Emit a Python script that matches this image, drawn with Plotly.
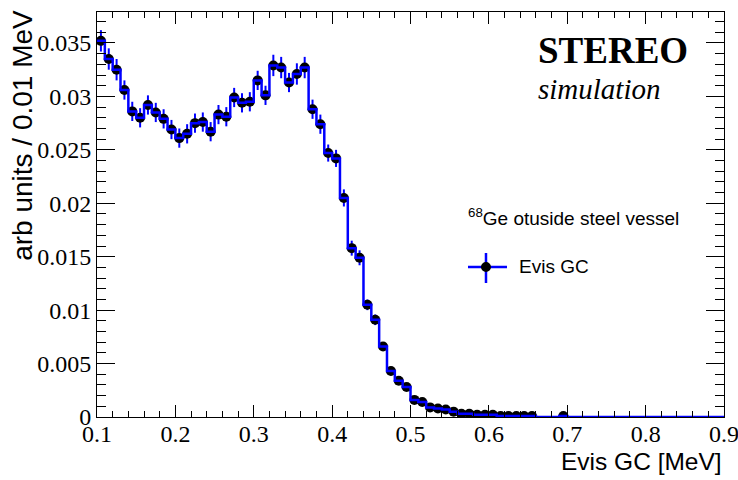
import numpy as np
import plotly.graph_objects as go

# Evis GC spectrum, 0.01 MeV bins from 0.1 to 0.9 MeV
bin_lo = 0.1
bin_hi = 0.9
bin_width = 0.01

counts = [
    0.0352, 0.0335, 0.0325, 0.0306, 0.0286, 0.0280, 0.0292, 0.0285, 0.0279, 0.0269,
    0.0261, 0.0265, 0.0275, 0.0276, 0.0267, 0.0283, 0.0281, 0.0299, 0.0294, 0.0295,
    0.0315, 0.0301, 0.0329, 0.0327, 0.0313, 0.0321, 0.0327, 0.0288, 0.0274, 0.0247,
    0.0242, 0.0205, 0.0158, 0.0149, 0.0105, 0.0091, 0.0066, 0.0043, 0.0034, 0.0028,
    0.0016, 0.0014, 0.0009, 0.0008, 0.0007, 0.0005, 0.0003, 0.0003, 0.0002, 0.0002,
    0.0002, 0.0001, 0.0001, 0.0001, 0.0001, 0.0001, 0.0, 0.0, 0.0, 0.0001,
    0.0, 0.0, 0.0, 0.0, 0.0, 0.0, 0.0, 0.0, 0.0, 0.0,
    0.0, 0.0, 0.0, 0.0, 0.0, 0.0, 0.0, 0.0, 0.0, 0.0,
]
errors = [
    0.0010, 0.0010, 0.0010, 0.0009, 0.0009, 0.0009, 0.0009, 0.0009, 0.0009, 0.0009,
    0.0009, 0.0009, 0.0009, 0.0009, 0.0009, 0.0009, 0.0009, 0.0009, 0.0009, 0.0009,
    0.0009, 0.0009, 0.0010, 0.0010, 0.0009, 0.0010, 0.0010, 0.0009, 0.0009, 0.0008,
    0.0008, 0.0008, 0.0007, 0.0007, 0.0005, 0.0005, 0.0004, 0.0004, 0.0003, 0.0003,
    0.0002, 0.0002, 0.0002, 0.0002, 0.0001, 0.0001, 0.0001, 0.0001, 0.0001, 0.0001,
    0.0001, 0.0001, 0.0001, 0.0001, 0.0001, 0.0001, 0.0, 0.0, 0.0, 0.0001,
    0.0, 0.0, 0.0, 0.0, 0.0, 0.0, 0.0, 0.0, 0.0, 0.0,
    0.0, 0.0, 0.0, 0.0, 0.0, 0.0, 0.0, 0.0, 0.0, 0.0,
]
x_ticks = [0.1, 0.2, 0.3, 0.4, 0.5, 0.6, 0.7, 0.8, 0.9]
x_tick_labels = ["0.1", "0.2", "0.3", "0.4", "0.5", "0.6", "0.7", "0.8", "0.9"]
series_name = "Evis GC"
source_label = "<sup>68</sup>Ge otuside steel vessel"

counts = np.array(counts)
errors = np.array(errors)
n_bins = len(counts)
edges = bin_lo + bin_width * np.arange(n_bins + 1)
centers = edges[:-1] + bin_width / 2
filled = counts > 0

BLUE = "#0000ff"
serif = "Liberation Serif, Times New Roman, serif"
sans = "Liberation Sans, Arial, Helvetica, sans-serif"

fig = go.Figure()

# points with error bars (empty bins are not drawn)
fig.add_trace(go.Scatter(
    x=centers[filled], y=counts[filled],
    mode="markers",
    marker=dict(color="black", size=10),
    error_y=dict(type="data", array=errors[filled], color=BLUE, thickness=2, width=0),
    showlegend=False, hoverinfo="skip",
))

# histogram outline
fig.add_trace(go.Scatter(
    x=edges, y=np.append(counts, counts[-1]),
    mode="lines", line=dict(color=BLUE, width=2.5, shape="hv"),
    showlegend=False,
))

axis_common = dict(
    showline=True, linecolor="black", linewidth=1, mirror="allticks",
    ticks="inside", tickcolor="black", showgrid=False, zeroline=False,
    automargin=False, ticklabeloverflow="allow",
    tickfont=dict(family=serif, size=24, color="black"),
)
fig.update_xaxes(
    range=[bin_lo, bin_hi], tickvals=x_ticks, ticktext=x_tick_labels, ticklen=12,
    ticklabelstandoff=-5,
    minor=dict(ticks="inside", dtick=0.02, ticklen=6, tickcolor="black"),
    **axis_common,
)
fig.update_yaxes(
    range=[0, 0.0379], dtick=0.005, tick0=0, ticklen=18,
    minor=dict(ticks="inside", dtick=0.001, ticklen=9, tickcolor="black"),
    **axis_common,
)

fig.add_annotation(text="Evis GC [MeV]", xref="paper", yref="paper", x=1.0, y=-0.111,
                   xanchor="right", yanchor="middle", showarrow=False,
                   font=dict(family=sans, size=24.5, color="black"))
fig.add_annotation(text="arb units / 0.01 MeV", xref="paper", yref="paper", x=-0.119, y=1.01,
                   xanchor="center", yanchor="top", textangle=-90, showarrow=False,
                   font=dict(family=sans, size=28, color="black"))
fig.add_annotation(text="<b>STEREO</b>", xref="paper", yref="paper", x=0.700, y=0.906,
                   xanchor="left", yanchor="middle", showarrow=False,
                   font=dict(family=serif, size=37, color="black"))
fig.add_annotation(text="<i>simulation</i>", xref="paper", yref="paper", x=0.700, y=0.810,
                   xanchor="left", yanchor="middle", showarrow=False,
                   font=dict(family=serif, size=29, color="black"))
fig.add_annotation(text=source_label, xref="paper", yref="paper", x=0.589, y=0.494,
                   xanchor="left", yanchor="middle", showarrow=False,
                   font=dict(family=sans, size=19, color="black"))

# legend entry: error-bar cross, marker and label
leg_x, leg_y = 0.6204, 0.3704
fig.add_shape(type="line", xref="paper", yref="paper", x0=0.5917, x1=0.6539, y0=leg_y, y1=leg_y,
              line=dict(color=BLUE, width=2.5))
fig.add_shape(type="line", xref="paper", yref="paper", x0=leg_x, x1=leg_x, y0=0.3309, y1=0.4049,
              line=dict(color=BLUE, width=2.5))
fig.add_shape(type="circle", xref="paper", yref="paper", xsizemode="pixel", ysizemode="pixel",
              xanchor=leg_x, yanchor=leg_y, x0=-5, x1=5, y0=-5, y1=5,
              fillcolor="black", line=dict(color="black", width=0))
fig.add_annotation(text=series_name, xref="paper", yref="paper", x=0.6699, y=leg_y,
                   xanchor="left", yanchor="middle", showarrow=False,
                   font=dict(family=sans, size=19, color="black"))

fig.update_layout(
    width=738, height=480,
    margin=dict(l=97, r=14, t=12, b=63, autoexpand=False),
    paper_bgcolor="white", plot_bgcolor="white",
    showlegend=False,
)

fig.write_html("out.html", config={"displayModeBar": False},
               post_script="document.body.style.margin='0';")
